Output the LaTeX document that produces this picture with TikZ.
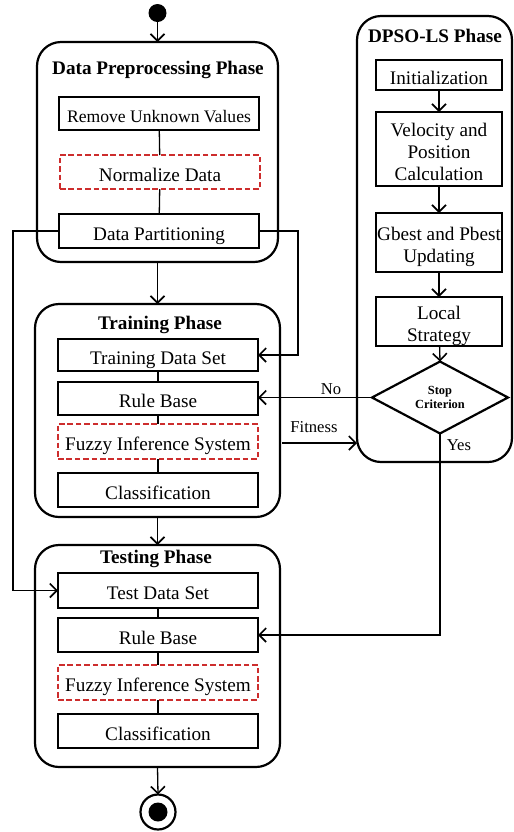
\documentclass[tikz,border=0pt]{standalone}
\usepackage{fontspec}
\setmainfont{Liberation Serif}
\usetikzlibrary{arrows.meta,shapes.geometric}
\definecolor{dred}{RGB}{205,45,45}
\newcommand{\mlines}[1]{\raisebox{-2.5pt}[\height][\depth]{\begin{tabular}{@{}c@{}}#1\end{tabular}}}
\begin{document}
\begin{tikzpicture}[x=0.5pt,y=-0.5pt,
  every node/.style={inner sep=0pt,outer sep=0pt,font=\fontsize{9.6}{11}\selectfont,align=center},
  phase/.style={draw,line width=1.1pt,rounded corners=12pt},
  onel/.style={text height=1.12em,text depth=0.2em},
  sbox/.style={draw,line width=1.15pt,minimum width=100pt,onel},
  dbox/.style={draw=dred,line width=1.1pt,dash pattern=on 2.8pt off 1.4pt,minimum width=100pt,onel},
  pbox/.style={draw,line width=1.15pt,minimum width=63pt},
  ttl/.style={font=\fontsize{9.6}{11}\selectfont\bfseries},
  lbl/.style={font=\fontsize{8.3}{10}\selectfont},
  conn/.style={line width=0.65pt},
  arr/.style={line width=0.65pt,-{Straight Barb[length=3.5pt,width=7pt,line width=0.8pt]}}
]
\useasboundingbox (0,0) rectangle (514,832);

% phase containers
\node[phase,minimum width=120.5pt,minimum height=110pt] (dp) at (157.5,152) {};
\node[phase,minimum width=122.5pt,minimum height=106.5pt] (train) at (157.5,410.5) {};
\node[phase,minimum width=122.5pt,minimum height=111pt] (test) at (157.5,656) {};
\node[phase,minimum width=77.5pt,minimum height=223pt] (dpso) at (434.5,239) {};

% titles
\node[ttl] (tdp) at (158,70) {Data Preprocessing Phase};
\node[ttl] (ttr) at (160,325) {Training Phase};
\node[ttl] (tte) at (156,559) {Testing Phase};
\node[ttl] (tds0) at (435,36) {DPSO-LS Phase};

% data preprocessing
\node[sbox,minimum height=16.5pt,font=\fontsize{8.8}{11}\selectfont] (rem) at (159,113.5) {Remove Unknown Values};
\node[dbox,minimum height=17pt] (norm) at (160,172) {Normalize Data};
\node[sbox,minimum height=17pt] (part) at (159,231) {Data Partitioning};

% training
\node[sbox,minimum height=16pt] (tds) at (158,355) {Training Data Set};
\node[sbox,minimum height=16.5pt] (rb1) at (158,398.5) {Rule Base};
\node[dbox,minimum height=17.5pt] (fis1) at (158,441.5) {Fuzzy Inference System};
\node[sbox,minimum height=17pt] (cls1) at (158,490) {Classification};

% testing
\node[sbox,minimum height=17.5pt] (tst) at (158,590.5) {Test Data Set};
\node[sbox,minimum height=17pt] (rb2) at (158,635) {Rule Base};
\node[dbox,minimum height=17.5pt] (fis2) at (158,682.5) {Fuzzy Inference System};
\node[sbox,minimum height=17pt] (cls2) at (158,731) {Classification};

% DPSO-LS
\node[pbox,minimum height=15pt,onel] (init) at (439,75) {Initialization};
\node[pbox,minimum height=37pt] (vel) at (439,149) {\mlines{Velocity and\\Position\\Calculation}};
\node[pbox,minimum height=29.5pt] (gb) at (439,242.5) {\mlines{Gbest and Pbest\\Updating}};
\node[pbox,minimum height=24.5pt] (ls) at (439,321.5) {\mlines{Local\\Strategy}};
\node[draw,diamond,line width=1.1pt,minimum width=68pt,minimum height=24.5pt,inner sep=0pt,font=\fontsize{6.2}{7}\selectfont\bfseries] (stop) at (440,397.5) {Stop\\Criterion};

% start / end
\node[circle,fill=black,minimum size=9pt] (start) at (157.5,13) {};
\node[circle,draw,line width=1.1pt,minimum size=17.5pt] (end) at (158,812) {};
\node[circle,fill=black,minimum size=9.5pt] (endin) at (158,812) {};

% connectors
\draw[arr] (start) -- (dp.north);
\draw[conn] (rem) -- (norm);
\draw[conn] (norm) -- (part);
\draw[arr] (dp.south) -- (train.north);
\coordinate (lc) at (13,231);
\coordinate (rc) at (298,231);
\draw[arr] (part.west) -- (lc) |- (tst.west);
\draw[arr] (part.east) -- (rc) |- (tds.east);
\draw[conn] (tds) -- (rb1);
\draw[conn] (rb1) -- (fis1);
\draw[conn] (fis1) -- (cls1);
\draw[arr] (train.south) -- (test.north);
\draw[conn] (tst) -- (rb2);
\draw[conn] (rb2) -- (fis2);
\draw[conn] (fis2) -- (cls2);
\draw[arr] (test.south) -- (end.north);

\draw[arr] (init) -- (vel);
\draw[arr] (vel) -- (gb);
\draw[arr] (gb) -- (ls);
\draw[arr] (ls) -- (stop.north);

\draw[arr] (stop.west) -- (rb1.east |- stop.west);
\node[lbl] (nolbl) at (331,389) {No};
\coordinate (fa) at (282,443);
\coordinate (fb) at (357,443);
\draw[arr] (fa) -- (fb);
\node[lbl] (fitlbl) at (314,427) {Fitness};
\draw[arr] (stop.south) |- (rb2.east);
\node[lbl] (yeslbl) at (459,445) {Yes};
\end{tikzpicture}
\end{document}
